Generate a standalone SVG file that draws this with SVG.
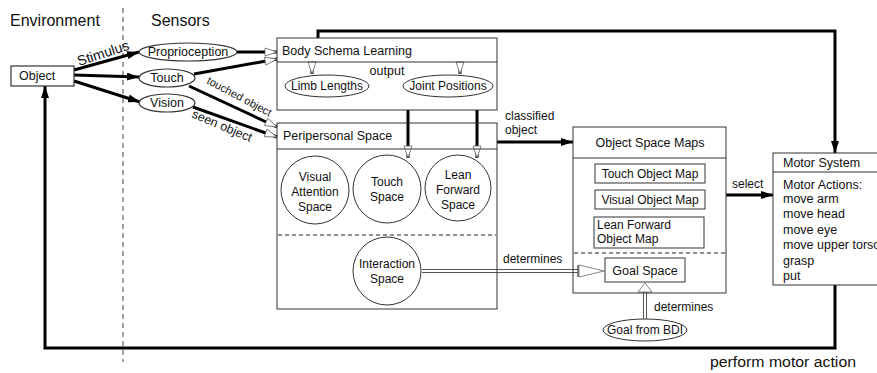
<svg xmlns="http://www.w3.org/2000/svg" width="877" height="373" viewBox="0 0 877 373">
<style>
  text { font-family: "Liberation Sans", Arial, sans-serif; fill: #111; }
  .big { font-size: 16px; }
  .lbl { font-size: 12px; }
  .box { fill: #fff; stroke: #333; stroke-width: 1.2; }
  .thin { fill: none; stroke: #333; stroke-width: 1; }
  .dash { fill: none; stroke: #222; stroke-width: 1.2; stroke-dasharray: 4 3; }
  .thick { fill: none; stroke: #000; stroke-width: 3; }
  .dbl-o { fill: none; stroke: #555; stroke-width: 4; }
  .dbl-i { fill: none; stroke: #fff; stroke-width: 2; }
  .head-o { fill: #fff; stroke: #666; stroke-width: 0.8; }
</style>
<defs>
  <marker id="solid" markerUnits="userSpaceOnUse" markerWidth="12" markerHeight="8" refX="12" refY="4" orient="auto">
    <path d="M0,0 L12,4 L0,8 z" fill="#000"/>
  </marker>
  <marker id="hollow" markerUnits="userSpaceOnUse" markerWidth="14" markerHeight="10" refX="13" refY="5" orient="auto">
    <path d="M1,1 L13,5 L1,9 z" fill="#fff" stroke="#666" stroke-width="0.8"/>
  </marker>
</defs>

<!-- region labels and divider -->
<text class="big" x="10" y="26">Environment</text>
<text class="big" x="151" y="26">Sensors</text>
<line x1="123" y1="8" x2="123" y2="362" stroke="#444" stroke-width="1" stroke-dasharray="5 4"/>

<!-- connectors -->
<g id="connectors">
  <line class="thick" x1="74" y1="70" x2="139" y2="52" marker-end="url(#solid)"/>
  <line class="thick" x1="74" y1="75" x2="139" y2="77" marker-end="url(#solid)"/>
  <line class="thick" x1="74" y1="81" x2="140" y2="102" marker-end="url(#solid)"/>
  <line class="thick" x1="237" y1="52" x2="277" y2="52" marker-end="url(#hollow)"/>
  <line class="thick" x1="194" y1="74" x2="277" y2="59" marker-end="url(#hollow)"/>
  <line class="thick" x1="189" y1="86" x2="277" y2="127" marker-end="url(#hollow)"/>
  <line class="thick" x1="193" y1="107" x2="277" y2="137" marker-end="url(#hollow)"/>
  <!-- body schema internal outputs -->
  <line class="thick" x1="312" y1="62" x2="312" y2="74" marker-end="url(#hollow)"/>
  <line class="thick" x1="460" y1="62" x2="460" y2="74" marker-end="url(#hollow)"/>
  <!-- body schema to spaces -->
  <line class="thick" x1="408" y1="110" x2="408" y2="158" marker-end="url(#hollow)"/>
  <line class="thick" x1="477" y1="110" x2="477" y2="158" marker-end="url(#hollow)"/>
  <!-- classified object -->
  <line class="thick" x1="497" y1="142" x2="573" y2="142" marker-end="url(#solid)"/>
  <!-- select -->
  <line class="thick" x1="726" y1="195" x2="773" y2="195" marker-end="url(#solid)"/>
  <!-- top loop -->
  <polyline class="thick" points="318,38 318,31 835,31 835,153" marker-end="url(#solid)"/>
  <!-- bottom loop -->
  <polyline class="thick" points="835,285 835,348 45,348 45,86" marker-end="url(#solid)"/>
  <!-- determines (interaction -> goal space) -->
  <line class="dbl-o" x1="422" y1="271" x2="578" y2="271"/>
  <line class="dbl-i" x1="421" y1="271" x2="578" y2="271"/>
  <line x1="578" y1="265" x2="578" y2="277" stroke="#333" stroke-width="1.2"/>
  <path class="head-o" d="M579,265 L604,271 L579,277 z"/>
  <!-- determines (BDI -> goal space) -->
  <line class="dbl-o" x1="645" y1="319" x2="645" y2="292"/>
  <line class="dbl-i" x1="645" y1="320" x2="645" y2="292"/>
  <path class="head-o" d="M638,292 L645,283 L652,292 z"/>
</g>

<!-- connector labels -->
<text transform="translate(79,66) rotate(-18)" style="font-size:14px">Stimulus</text>
<text transform="translate(206,83) rotate(28)" style="font-size:11px">touched object</text>
<text transform="translate(191,117) rotate(23)" style="font-size:12.5px">seen object</text>
<text class="lbl" x="505" y="120">classified</text>
<text class="lbl" x="505" y="134">object</text>
<text class="lbl" x="732" y="188">select</text>
<text class="lbl" x="503" y="263">determines</text>
<text class="lbl" x="654" y="311">determines</text>
<text x="710" y="367" style="font-size:14px" textLength="146" lengthAdjust="spacingAndGlyphs">perform motor action</text>

<!-- nodes -->
<g id="object">
  <rect class="box" x="11" y="66" width="63" height="20"/>
  <text class="lbl" x="19" y="80" style="font-size:12.5px">Object</text>
</g>
<g id="proprioception">
  <ellipse class="box" cx="188" cy="52" rx="49" ry="9"/>
  <text x="188" y="56" text-anchor="middle" style="font-size:12.5px">Proprioception</text>
</g>
<g id="touch">
  <ellipse class="box" cx="167" cy="78" rx="28" ry="9"/>
  <text x="167" y="82" text-anchor="middle" style="font-size:12.5px">Touch</text>
</g>
<g id="vision">
  <ellipse class="box" cx="167" cy="103" rx="28" ry="9"/>
  <text x="167" y="107" text-anchor="middle" style="font-size:12.5px">Vision</text>
</g>

<g id="body-schema">
  <rect class="thin" x="277" y="38" width="220" height="72"/>
  <line class="thin" x1="277" y1="62" x2="497" y2="62"/>
  <text x="282" y="55" style="font-size:12.5px">Body Schema Learning</text>
  <text class="lbl" x="387" y="75" text-anchor="middle" style="font-size:12.5px">output</text>
</g>
<g id="limb-lengths">
  <ellipse class="thin" cx="327" cy="86" rx="42" ry="11"/>
  <text class="lbl" x="327" y="90" text-anchor="middle">Limb Lengths</text>
</g>
<g id="joint-positions">
  <ellipse class="thin" cx="448" cy="86" rx="45" ry="11"/>
  <text class="lbl" x="448" y="90" text-anchor="middle">Joint Positions</text>
</g>

<g id="peripersonal-space">
  <rect class="thin" x="277" y="123" width="220" height="186"/>
  <line class="thin" x1="277" y1="149" x2="497" y2="149"/>
  <line class="dash" x1="278" y1="235" x2="496" y2="235"/>
  <text x="283" y="140" style="font-size:12.5px">Peripersonal Space</text>
</g>
<g id="visual-attention-space">
  <circle class="thin" cx="315" cy="190" r="34"/>
  <text class="lbl" text-anchor="middle"><tspan x="315" y="181">Visual</tspan><tspan x="315" y="196">Attention</tspan><tspan x="315" y="211">Space</tspan></text>
</g>
<g id="touch-space">
  <circle class="thin" cx="387" cy="189" r="34"/>
  <text class="lbl" text-anchor="middle"><tspan x="387" y="186">Touch</tspan><tspan x="387" y="201">Space</tspan></text>
</g>
<g id="lean-forward-space">
  <circle class="thin" cx="458" cy="188" r="33"/>
  <text class="lbl" text-anchor="middle"><tspan x="458" y="179">Lean</tspan><tspan x="458" y="194">Forward</tspan><tspan x="458" y="209">Space</tspan></text>
</g>
<g id="interaction-space">
  <circle class="thin" cx="387" cy="271" r="34"/>
  <text class="lbl" text-anchor="middle"><tspan x="387" y="268">Interaction</tspan><tspan x="387" y="283">Space</tspan></text>
</g>

<g id="object-space-maps">
  <rect class="thin" x="573" y="127" width="153" height="166"/>
  <line class="thin" x1="573" y1="158" x2="726" y2="158"/>
  <line class="dash" x1="574" y1="253" x2="725" y2="253"/>
  <text class="lbl" x="650" y="147" text-anchor="middle" style="font-size:12.5px">Object Space Maps</text>
</g>
<g id="touch-object-map">
  <rect class="thin" x="595" y="164" width="110" height="19"/>
  <text class="lbl" x="650" y="178" text-anchor="middle">Touch Object Map</text>
</g>
<g id="visual-object-map">
  <rect class="thin" x="595" y="190" width="110" height="19"/>
  <text class="lbl" x="650" y="204" text-anchor="middle">Visual Object Map</text>
</g>
<g id="lean-forward-object-map">
  <rect class="thin" x="594" y="217" width="110" height="31"/>
  <text class="lbl"><tspan x="597" y="229">Lean Forward</tspan><tspan x="597" y="243">Object Map</tspan></text>
</g>
<g id="goal-space">
  <rect class="thin" x="605" y="258" width="80" height="24"/>
  <text class="lbl" x="645" y="275" text-anchor="middle" style="font-size:12.5px">Goal Space</text>
</g>
<g id="goal-from-bdi">
  <ellipse class="thin" cx="645" cy="330" rx="42" ry="11"/>
  <text class="lbl" x="645" y="334" text-anchor="middle">Goal from BDI</text>
</g>

<g id="motor-system">
  <rect class="thin" x="773" y="153" width="112" height="132"/>
  <line class="thin" x1="773" y1="172" x2="877" y2="172"/>
  <text x="783" y="167" style="font-size:12.5px">Motor System</text>
  <text style="font-size:12.5px"><tspan x="783" y="189">Motor Actions:</tspan><tspan x="783" y="203">move arm</tspan><tspan x="783" y="218">move head</tspan><tspan x="783" y="234">move eye</tspan><tspan x="783" y="249">move upper torso</tspan><tspan x="783" y="265">grasp</tspan><tspan x="783" y="280">put</tspan></text>
</g>
</svg>
